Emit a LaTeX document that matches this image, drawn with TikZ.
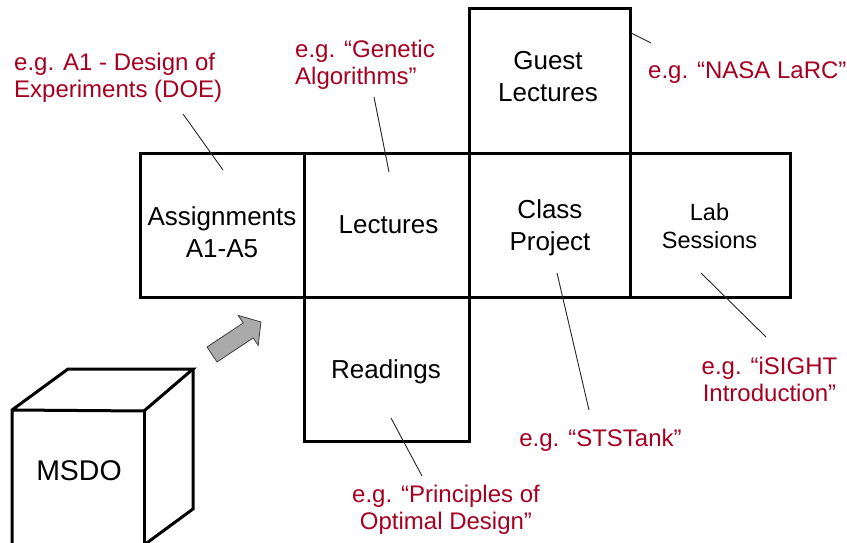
\documentclass[tikz,border=0pt]{standalone}
\usepackage{fontspec}
\setmainfont{Liberation Sans}
\definecolor{egred}{RGB}{165,0,33}
\definecolor{arrowgray}{RGB}{170,170,170}
\begin{document}
\begin{tikzpicture}[x=1pt,y=-1pt,
  box/.style={draw=black, line width=3pt, inner sep=0pt},
  boxtxt/.style={font=\fontsize{26}{31.5}\selectfont, inner sep=0pt, align=center},
  labtxt/.style={font=\fontsize{23.5}{28}\selectfont, inner sep=0pt, align=center},
  egtxt/.style={font=\fontsize{24}{27}\selectfont, text=egred, inner sep=0pt},
  leader/.style={line width=0.9pt, draw=black!85},
  cubeline/.style={line width=3pt, line join=miter}
]
\useasboundingbox (0,0) rectangle (847,543);

% boxes
\node[box, minimum width=164pt, minimum height=144pt] (asg) at (222,225) {};
\node[box, minimum width=165pt, minimum height=144pt] (lec) at (386.5,225) {};
\node[box, minimum width=161pt, minimum height=144pt] (cls) at (549.5,225) {};
\node[box, minimum width=160pt, minimum height=144pt] (lab) at (710,225) {};
\node[box, minimum width=161pt, minimum height=144pt] (gst) at (549.5,81) {};
\node[box, minimum width=165pt, minimum height=144pt] (rdg) at (386.5,369) {};

% box texts
\node[boxtxt, anchor=north] (asgtxt) at (222,206.5) {Assignments\\A1-A5};
\node[boxtxt, anchor=base] (lectxt) at (388.5,233) {Lectures};
\node[boxtxt, anchor=north] (gsttxt) at (548,51.5) {Guest\\Lectures};
\node[boxtxt, anchor=north] (clstxt) at (550,199.5) {Class\\Project};
\node[labtxt, anchor=north] (labtxt) at (709.5,203) {Lab\\Sessions};
\node[boxtxt, anchor=base] (rdgtxt) at (386,378) {Readings};

% example labels
\node[egtxt, anchor=north west, align=left] (egdoe) at (14,52.5) {e.g. A1 - Design of\\Experiments (DOE)};
\node[egtxt, anchor=north west, align=left] (eggen) at (295,40) {e.g. “Genetic\\Algorithms”};
\node[egtxt, anchor=base west] (egnasa) at (648,78) {e.g. “NASA LaRC”};
\node[egtxt, anchor=base] (egsts) at (600.5,446) {e.g. “STSTank”};
\node[egtxt, anchor=north, align=center] (egisi) at (769.5,356.5) {e.g. “iSIGHT\\Introduction”};
\node[egtxt, anchor=north, align=center] (egprn) at (446,485) {e.g. “Principles of\\Optimal Design”};

% leader lines
\coordinate (l1a) at (183,114); \coordinate (l1b) at (223,170);
\coordinate (l2a) at (374,97);  \coordinate (l2b) at (389,172);
\coordinate (l3a) at (631,33);  \coordinate (l3b) at (651,43);
\coordinate (l4a) at (557,273); \coordinate (l4b) at (589,410);
\coordinate (l5a) at (701,273); \coordinate (l5b) at (766,337);
\coordinate (l6a) at (391,418); \coordinate (l6b) at (422,476);
\draw[leader] (l1a) -- (l1b);
\draw[leader] (l2a) -- (l2b);
\draw[leader] (l3a) -- (l3b);
\draw[leader] (l4a) -- (l4b);
\draw[leader] (l5a) -- (l5b);
\draw[leader] (l6a) -- (l6b);

% cube
\begin{scope}
  \clip (0,0) rectangle (847,543);
  \coordinate (f1) at (12,410);
  \coordinate (f2) at (144,411);
  \coordinate (b1) at (68,369);
  \coordinate (b2) at (193,369);
  \coordinate (b3) at (193,509);
  \coordinate (f3) at (144,560);
  \coordinate (f4) at (12,560);
  \coordinate (b4) at (144,545);
  \draw[cubeline] (f4) -- (f1) -- (b1) -- (b2) -- (f2) -- (f1);
  \draw[cubeline] (f2) -- (f3);
  \draw[cubeline] (b2) -- (b3) -- (b4);
\end{scope}
\node[font=\fontsize{28.5}{34}\selectfont, inner sep=0pt, anchor=base] (msdo) at (79,480) {MSDO};

% arrow
\begin{scope}[shift={(212,354.5)}, rotate=33.6]
  \draw[fill=arrowgray, draw=black!75, line width=0.8pt, line join=miter]
    (0,-9) -- (43.5,-9) -- (43.5,-18) -- (58.8,0) -- (43.5,18) -- (43.5,9) -- (0,9) -- cycle;
\end{scope}
\end{tikzpicture}
\end{document}
